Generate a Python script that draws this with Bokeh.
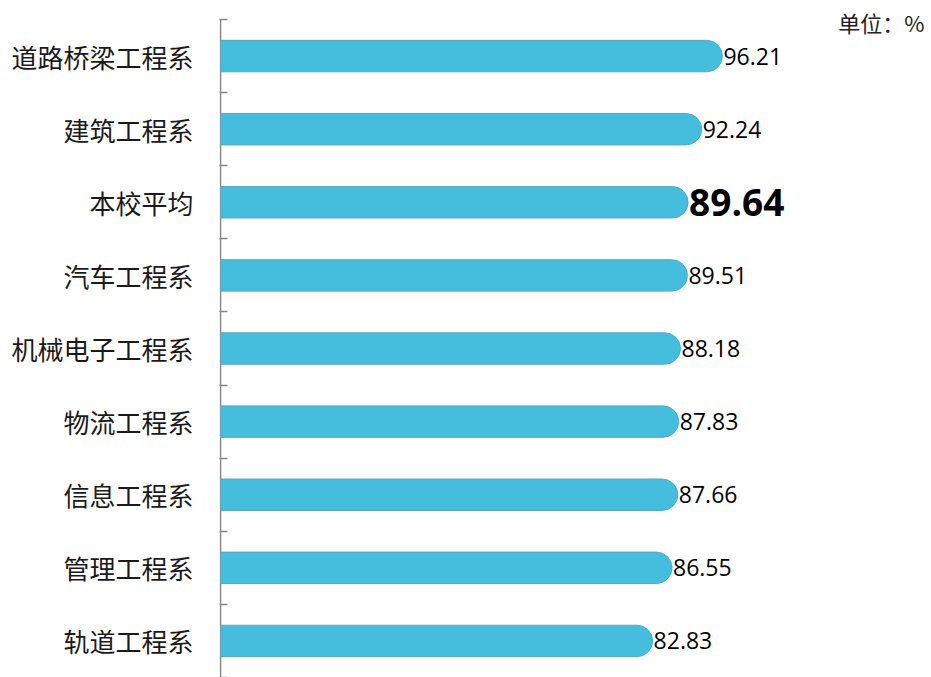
from bokeh.plotting import figure
from bokeh.models import ColumnDataSource, FixedTicker, Range1d, Label
from bokeh.embed import file_html
from bokeh.resources import INLINE
from bokeh.core.properties import value

categories = ["道路桥梁工程系", "建筑工程系", "本校平均", "汽车工程系", "机械电子工程系",
              "物流工程系", "信息工程系", "管理工程系", "轨道工程系"]
rates = [96.21, 92.24, 89.64, 89.51, 88.18, 87.83, 87.66, 86.55, 82.83]
highlight = "本校平均"
unit_text = "单位：%"

n = len(categories)
ys = [n - 0.5 - i for i in range(n)]
labels = [f"{v:.2f}" for v in rates]
sizes = ["37px" if c == highlight else "23px" for c in categories]
styles = ["bold" if c == highlight else "normal" for c in categories]
src = ColumnDataSource(dict(y=ys, v=rates, cat=categories, label=labels, size=sizes, style=styles))

p = figure(width=931, height=677, output_backend="svg", toolbar_location=None,
           x_range=Range1d(-0.2, 136.3), y_range=Range1d(0, 9.26),
           min_border_left=219, min_border_right=0, min_border_top=0, min_border_bottom=0,
           x_axis_location=None)
p.outline_line_color = None
p.xgrid.visible = False
p.ygrid.visible = False

# vertical spine from the bottom of the last category to the top of the first
p.segment(x0=0, x1=0, y0=0, y1=n, line_color="#868686", line_width=1.5)

p.hbar(y="y", right="v", left=0, height=0.43, source=src,
       fill_color="#45BEDD", line_color="#5BA7BE", line_width=1,
       border_radius=(0, 16, 16, 0))
p.text(x="v", y="y", text="label", source=src, text_font=value("Open Sans"),
       text_font_size="size", text_font_style="style", text_baseline="middle",
       text_align="left", x_offset=1, text_color="#000000")

ax = p.yaxis[0]
ax.ticker = FixedTicker(ticks=ys, minor_ticks=list(range(n + 1)))
ax.major_label_overrides = {y: c for y, c in zip(ys, categories)}
ax.axis_line_color = None
ax.major_tick_line_color = None
ax.major_tick_in = 0
ax.major_tick_out = 0
ax.minor_tick_line_color = "#868686"
ax.minor_tick_line_width = 1.5
ax.minor_tick_in = 8
ax.minor_tick_out = 0
ax.major_label_text_font = "Noto Sans CJK SC"
ax.major_label_text_font_size = "26px"
ax.major_label_text_color = "#1a1a1a"
ax.major_label_standoff = 26

p.add_layout(Label(x=705, y=656, x_units="screen", y_units="screen", text=unit_text,
                   text_align="right", text_baseline="middle",
                   text_font="Noto Sans CJK SC", text_font_size="22px", text_color="#222222"))

open("out.html", "w").write(file_html(p, INLINE))
